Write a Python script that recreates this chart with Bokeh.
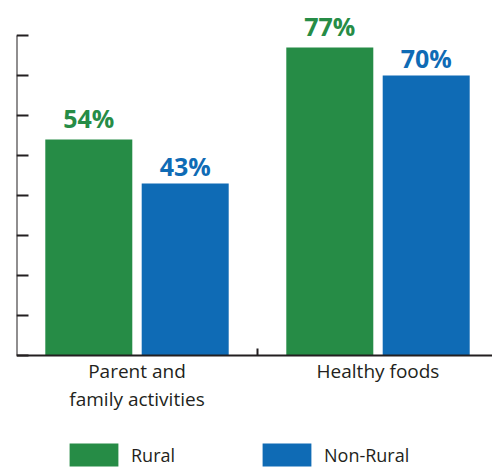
import numpy as np
from bokeh.plotting import figure
from bokeh.models import ColumnDataSource, Range1d, FixedTicker, Legend, LegendItem, LinearAxis
from bokeh.transform import dodge
from bokeh.core.properties import value
from bokeh.embed import file_html
from bokeh.resources import INLINE

categories = ["Parent and\nfamily activities", "Healthy foods"]
series = ["Rural", "Non-Rural"]
rural = [54, 77]
non_rural = [43, 70]
y_ticks = [0, 10, 20, 30, 40, 50, 60, 70, 80]

GREEN = "#268c46"
BLUE = "#0f6bb5"
INK = "#231f20"
FONT = "Open Sans"

pos = np.arange(len(categories)) + 0.5
src = ColumnDataSource(dict(
    x=pos,
    rural=rural,
    non_rural=non_rural,
    rural_lbl=[f"{v}%" for v in rural],
    non_rural_lbl=[f"{v}%" for v in non_rural],
))

p = figure(width=492, height=467,
           x_range=Range1d(0, 476 / 241), y_range=Range1d(-28, 88.75),
           output_backend="svg", toolbar_location=None,
           x_axis_location=None, y_axis_location=None,
           min_border_left=16, min_border_right=0, min_border_top=0, min_border_bottom=0)
p.outline_line_color = None
p.background_fill_color = "white"
p.border_fill_color = "white"
for g in p.grid:
    g.visible = False

OFF = 0.2
W = 0.361
r1 = p.vbar(x=dodge("x", -OFF, range=p.x_range), top="rural", width=W, bottom=0,
            source=src, fill_color=GREEN, line_color=None)
r2 = p.vbar(x=dodge("x", OFF, range=p.x_range), top="non_rural", width=W, bottom=0,
            source=src, fill_color=BLUE, line_color=None)

p.text(x=dodge("x", -OFF, range=p.x_range), y="rural", text="rural_lbl", source=src,
       y_offset=-22, text_font=value(FONT), text_font_style="bold", text_font_size="25px",
       text_align="center", text_baseline="middle", text_color=GREEN)
p.text(x=dodge("x", OFF, range=p.x_range), y="non_rural", text="non_rural_lbl", source=src,
       y_offset=-18, text_font=value(FONT), text_font_style="bold", text_font_size="25px",
       text_align="center", text_baseline="middle", text_color=BLUE)

xaxis = LinearAxis(fixed_location=0,
                   ticker=FixedTicker(ticks=list(pos), minor_ticks=list(pos[:-1] + 0.5)),
                   major_label_overrides={float(pos[i]): categories[i] for i in range(len(categories))},
                   major_tick_in=0, major_tick_out=0, minor_tick_in=7, minor_tick_out=0,
                   axis_line_width=2, axis_line_color=INK,
                   minor_tick_line_width=2, minor_tick_line_color=INK,
                   major_label_text_font=FONT, major_label_text_font_size="19px",
                   major_label_text_color=INK, major_label_text_line_height=1.1,
                   major_label_standoff=2)
p.add_layout(xaxis, "below")

yaxis = LinearAxis(fixed_location=0, bounds=(0, 80),
                   ticker=FixedTicker(ticks=y_ticks, minor_ticks=[]),
                   major_label_overrides={t: "" for t in y_ticks},
                   major_tick_in=12, major_tick_out=0, minor_tick_in=0, minor_tick_out=0,
                   axis_line_width=2, axis_line_color=INK,
                   major_tick_line_width=2, major_tick_line_color=INK)
p.add_layout(yaxis, "left")

legend = Legend(items=[LegendItem(label=series[0], renderers=[r1]),
                       LegendItem(label=series[1], renderers=[r2])],
                location=(47, -2), orientation="horizontal",
                glyph_width=61, glyph_height=29, label_standoff=7, label_width=110,
                label_height=29, spacing=15, padding=0, margin=0,
                border_line_alpha=0, background_fill_alpha=0,
                label_text_font=FONT, label_text_font_size="18px", label_text_color=INK)
p.add_layout(legend, "center")

open("out.html", "w").write(file_html(p, INLINE))
